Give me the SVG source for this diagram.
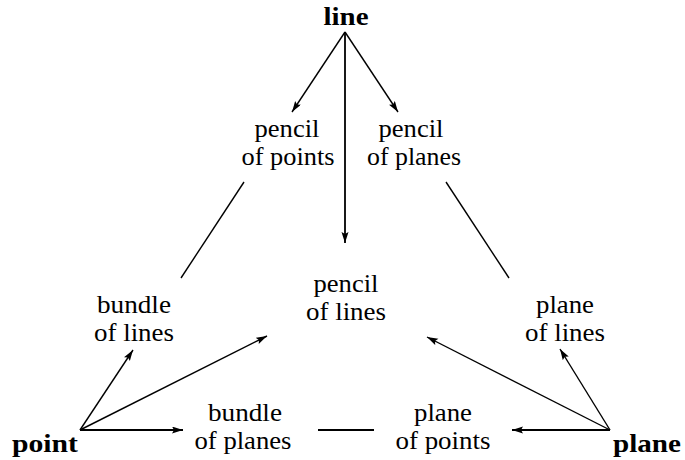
<svg xmlns="http://www.w3.org/2000/svg" width="685" height="460" viewBox="0 0 685 460" font-family="'Liberation Serif', 'Times New Roman', serif">
<style>
text{font-family:'Liberation Serif','Times New Roman',serif;font-size:25px;fill:#000;text-anchor:middle}
.b{font-weight:bold}
.l{text-anchor:start}
line{stroke:#000;stroke-width:1.4;fill:none}
.t{stroke-width:1.8}
.a{marker-end:url(#ah)}
</style>
<defs>
<marker id="ah" markerUnits="userSpaceOnUse" markerWidth="12" markerHeight="8" refX="11" refY="3.5" orient="auto">
<path d="M0,0 L11,3.5 L0,7 L2,3.5 z" fill="#000"/>
</marker>
</defs>
<g id="connectors">
<line class="a" x1="345" y1="32" x2="292" y2="112"/>
<line class="a" x1="345" y1="32" x2="398" y2="112"/>
<line class="a t" x1="345" y1="32" x2="345" y2="243"/>
<line x1="244" y1="182" x2="181" y2="278"/>
<line x1="446" y1="182" x2="509" y2="278"/>
<line class="a" x1="80" y1="430" x2="133" y2="350"/>
<line class="a" x1="80" y1="430" x2="267" y2="336"/>
<line class="a t" x1="80" y1="430" x2="183" y2="430"/>
<line class="t" x1="318" y1="430" x2="374" y2="430"/>
<line class="a t" x1="610" y1="430" x2="512" y2="430"/>
<line class="a" x1="610" y1="430" x2="427" y2="337"/>
<line class="a" x1="610" y1="430" x2="560" y2="349"/>
</g>
<g id="line"><text class="b" x="346" y="25" textLength="45" lengthAdjust="spacingAndGlyphs">line</text></g>
<g id="pencil-of-points"><text x="287" y="137" textLength="65" lengthAdjust="spacingAndGlyphs">pencil</text><text x="288" y="165" textLength="93" lengthAdjust="spacingAndGlyphs">of points</text></g>
<g id="pencil-of-planes"><text x="411" y="137" textLength="65" lengthAdjust="spacingAndGlyphs">pencil</text><text x="414" y="165" textLength="94" lengthAdjust="spacingAndGlyphs">of planes</text></g>
<g id="pencil-of-lines"><text x="346" y="292" textLength="65" lengthAdjust="spacingAndGlyphs">pencil</text><text x="346" y="320" textLength="80" lengthAdjust="spacingAndGlyphs">of lines</text></g>
<g id="bundle-of-lines"><text x="134" y="313" textLength="74" lengthAdjust="spacingAndGlyphs">bundle</text><text x="134" y="341" textLength="80" lengthAdjust="spacingAndGlyphs">of lines</text></g>
<g id="plane-of-lines"><text x="565" y="313" textLength="58" lengthAdjust="spacingAndGlyphs">plane</text><text x="565" y="341" textLength="80" lengthAdjust="spacingAndGlyphs">of lines</text></g>
<g id="bundle-of-planes"><text x="245" y="421" textLength="74" lengthAdjust="spacingAndGlyphs">bundle</text><text x="243" y="449" textLength="97" lengthAdjust="spacingAndGlyphs">of planes</text></g>
<g id="plane-of-points"><text x="443" y="421" textLength="58" lengthAdjust="spacingAndGlyphs">plane</text><text x="443" y="449" textLength="95" lengthAdjust="spacingAndGlyphs">of points</text></g>
<g id="point"><text class="b l" x="12" y="452" textLength="66" lengthAdjust="spacingAndGlyphs">point</text></g>
<g id="plane"><text class="b l" x="613" y="452" textLength="68" lengthAdjust="spacingAndGlyphs">plane</text></g>
</svg>
